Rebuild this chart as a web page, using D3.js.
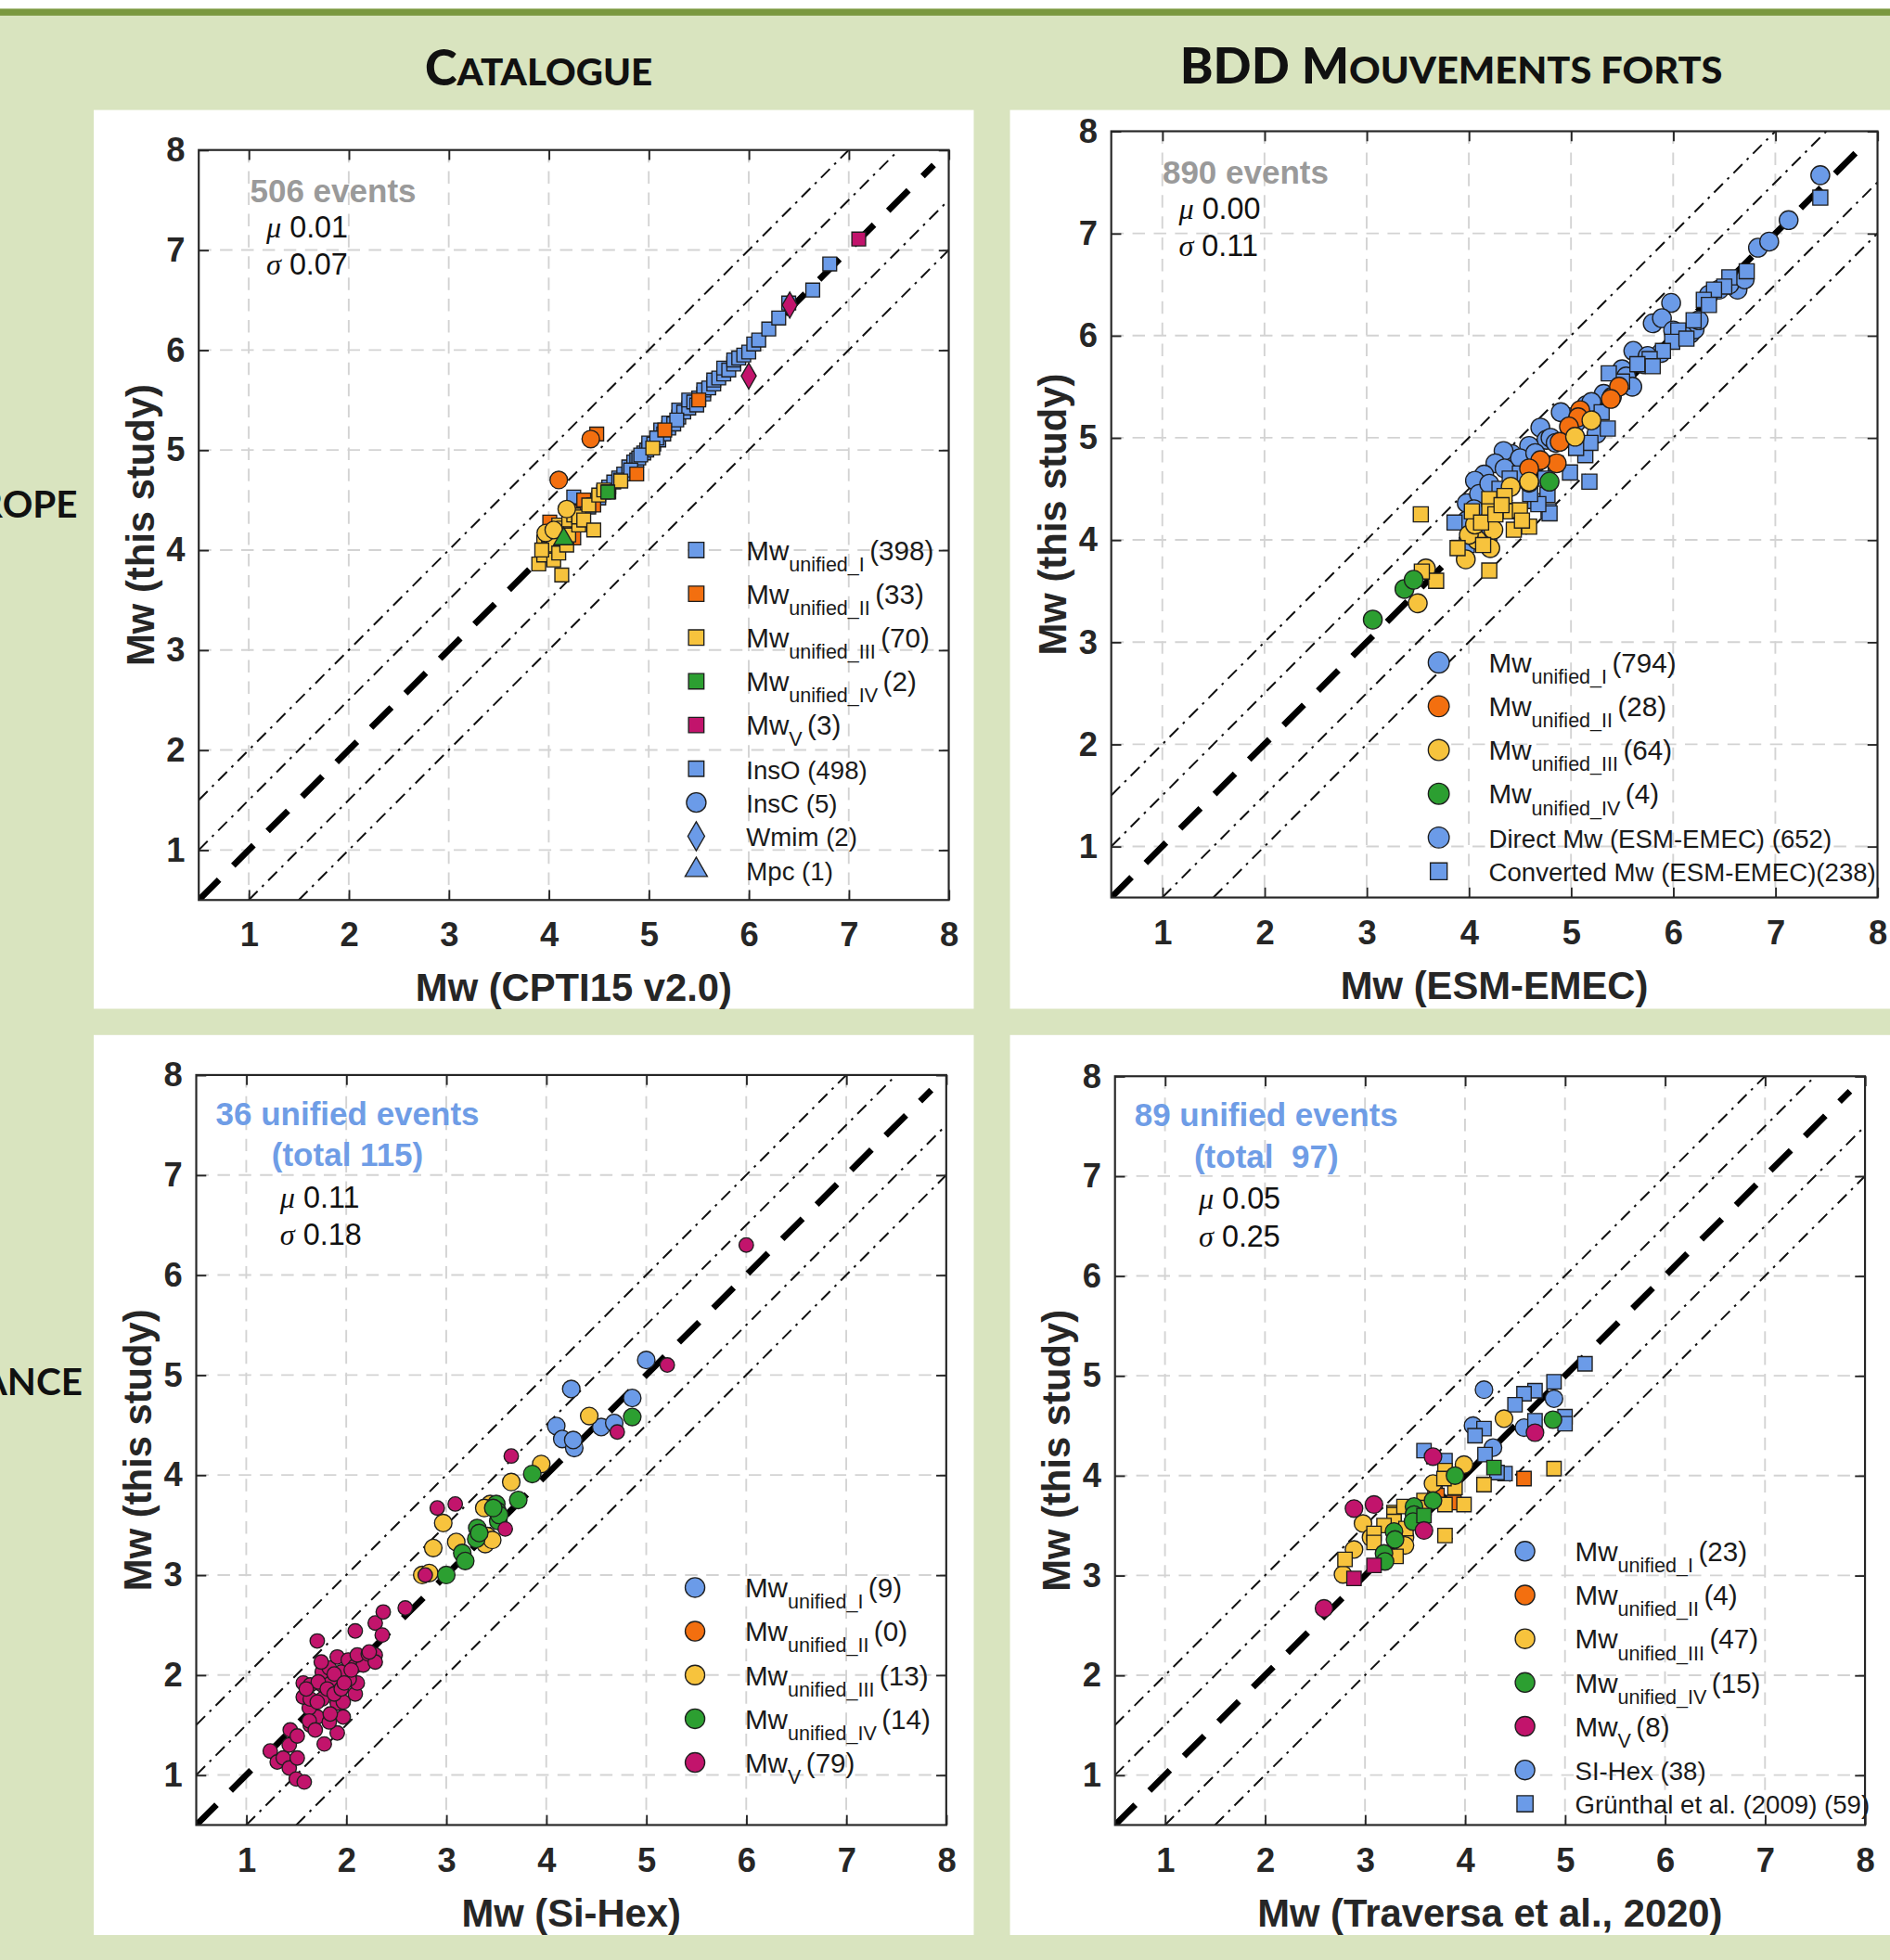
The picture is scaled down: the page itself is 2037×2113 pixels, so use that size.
<!DOCTYPE html>
<html>
<head>
<meta charset="utf-8">
<script src="https://d3js.org/d3.v7.min.js"></script>
<style>
  body { margin: 0; overflow: hidden; background: #d9e4bf; }
  text { white-space: pre; }
</style>
</head>
<body>
<script>
// ---- data: [Mw reference, Mw this study, class, symbol] ----
const cptiPts = [
  [4.40,4.43,"I","s"],[4.45,4.48,"I","s"],[4.50,4.52,"I","s"],[4.55,4.58,"I","s"],[4.60,4.63,"I","s"],[4.65,4.68,"I","s"],
  [4.70,4.72,"I","s"],[4.75,4.76,"I","s"],[4.80,4.83,"I","s"],[4.85,4.88,"I","s"],[4.88,4.90,"I","s"],[4.90,4.92,"I","s"],
  [4.95,4.97,"I","s"],[4.98,5.00,"I","s"],[5.00,5.02,"I","s"],[5.00,5.07,"I","s"],[5.05,5.06,"I","s"],[5.10,5.10,"I","s"],
  [5.12,5.20,"I","s"],[5.15,5.16,"I","s"],[5.20,5.22,"I","s"],[5.20,5.27,"I","s"],[5.25,5.26,"I","s"],[5.30,5.33,"I","s"],
  [5.30,5.40,"I","s"],[5.35,5.38,"I","s"],[5.40,5.42,"I","s"],[5.40,5.50,"I","s"],[5.45,5.48,"I","s"],[5.50,5.52,"I","s"],
  [5.55,5.56,"I","s"],[5.55,5.60,"I","s"],[5.60,5.62,"I","s"],[5.65,5.66,"I","s"],[5.65,5.70,"I","s"],[5.70,5.72,"I","s"],
  [5.75,5.76,"I","s"],[5.75,5.82,"I","s"],[5.80,5.80,"I","s"],[5.85,5.86,"I","s"],[5.85,5.90,"I","s"],[5.90,5.92,"I","s"],
  [5.95,5.95,"I","s"],[6.00,5.98,"I","s"],[6.05,6.06,"I","s"],[6.10,6.10,"I","s"],[6.20,6.21,"I","s"],[6.30,6.32,"I","s"],
  [6.40,6.47,"I","s"],[6.64,6.60,"I","s"],[6.81,6.86,"I","s"],[4.25,4.53,"I","s"],
  [4.72,4.70,"I","s"],[4.82,4.80,"I","s"],[4.92,4.95,"I","s"],[5.08,5.12,"I","s"],[5.28,5.30,"I","s"],[5.48,5.45,"I","s"],
  [4.01,4.28,"II","s"],[4.10,4.15,"II","s"],[4.20,4.20,"II","s"],[4.25,4.12,"II","s"],[4.30,4.38,"II","s"],[4.35,4.50,"II","s"],
  [4.45,4.45,"II","s"],[4.48,5.16,"II","s"],[4.88,4.76,"II","s"],[5.16,5.20,"II","s"],[5.50,5.50,"II","s"],
  [4.10,4.70,"II","o"],[4.42,5.11,"II","o"],
  [3.90,3.86,"III","s"],[3.95,3.95,"III","s"],[3.95,4.08,"III","s"],[4.00,4.02,"III","s"],[4.00,4.15,"III","s"],[4.05,3.90,"III","s"],
  [4.05,4.05,"III","s"],[4.10,3.97,"III","s"],[4.10,4.25,"III","s"],[4.13,3.75,"III","s"],[4.15,4.22,"III","s"],[4.18,4.05,"III","s"],
  [4.20,4.15,"III","s"],[4.20,4.30,"III","s"],[4.25,4.35,"III","s"],[4.30,4.25,"III","s"],[4.30,4.33,"III","s"],[4.35,4.30,"III","s"],
  [4.40,4.45,"III","s"],[4.45,4.20,"III","s"],[4.50,4.55,"III","s"],[4.55,4.60,"III","s"],[4.60,4.58,"III","s"],[4.72,4.69,"III","s"],
  [5.04,5.02,"III","s"],[3.93,4.00,"III","s"],
  [3.97,4.17,"III","o"],[4.05,4.20,"III","o"],[4.18,4.41,"III","o"],
  [4.59,4.58,"IV","s"],[4.15,4.11,"IV","^"],
  [7.10,7.11,"V","s"],[6.41,6.45,"V","d"],[6.00,5.74,"V","d"]
];

const esmPts = [
  [7.44,7.57,"I","o"],[7.13,7.13,"I","o"],[6.83,6.86,"I","o"],[6.94,6.92,"I","o"],[6.63,6.45,"I","o"],[6.35,6.40,"I","o"],
  [6.45,6.45,"I","o"],[5.98,6.32,"I","o"],[5.80,6.12,"I","o"],[5.89,6.17,"I","o"],[6.17,6.02,"I","o"],[6.21,6.06,"I","o"],
  [6.25,6.15,"I","o"],[6.10,6.00,"I","o"],[5.88,5.83,"I","o"],[5.71,5.72,"I","o"],[5.61,5.85,"I","o"],[5.50,5.67,"I","o"],
  [5.54,5.60,"I","o"],[5.32,5.43,"I","o"],[5.15,5.32,"I","o"],[4.98,5.20,"I","o"],[4.90,5.25,"I","o"],[4.70,5.10,"I","o"],
  [5.25,5.04,"I","o"],[4.76,4.98,"I","o"],[4.59,4.92,"I","o"],[4.42,4.84,"I","o"],[4.34,4.87,"I","o"],[4.26,4.75,"I","o"],
  [4.15,4.64,"I","o"],[4.06,4.58,"I","o"],[3.98,4.36,"I","o"],[3.98,4.19,"I","o"],[4.10,4.45,"I","o"],[4.20,4.55,"I","o"],
  [4.50,4.80,"I","o"],[4.65,4.85,"I","o"],[4.80,5.00,"I","o"],[5.05,5.15,"I","o"],[5.40,5.40,"I","o"],[5.75,5.80,"I","o"],
  [6.00,6.05,"I","o"],[4.05,4.30,"I","o"],[4.35,4.70,"I","o"],[4.85,4.95,"I","o"],[5.20,5.35,"I","o"],[5.60,5.50,"I","o"],
  [6.55,6.50,"I","o"],[6.70,6.55,"I","o"],
  [7.44,7.35,"I","s"],[6.72,6.63,"I","s"],[6.55,6.57,"I","s"],[6.50,6.48,"I","s"],[6.40,6.45,"I","s"],[6.30,6.35,"I","s"],
  [6.35,6.30,"I","s"],[6.20,6.15,"I","s"],[6.05,6.05,"I","s"],[5.99,5.94,"I","s"],[6.13,5.97,"I","s"],[5.90,5.85,"I","s"],
  [5.77,5.77,"I","s"],[5.65,5.72,"I","s"],[5.50,5.55,"I","s"],[5.37,5.63,"I","s"],[5.36,5.09,"I","s"],[5.18,4.57,"I","s"],
  [5.14,4.83,"I","s"],[5.19,4.95,"I","s"],[4.98,4.98,"I","s"],[4.99,4.66,"I","s"],[4.78,4.28,"I","s"],[4.79,4.26,"I","s"],
  [4.65,4.38,"I","s"],[4.77,4.44,"I","s"],[4.68,4.35,"I","s"],[4.20,4.07,"I","s"],[3.86,4.17,"I","s"],[3.98,3.95,"I","s"],
  [4.50,4.65,"I","s"],[4.40,4.60,"I","s"],[4.30,4.50,"I","s"],[4.60,4.45,"I","s"],[4.75,4.60,"I","s"],[4.85,4.75,"I","s"],
  [5.05,4.90,"I","s"],[5.30,5.25,"I","s"],[5.80,5.70,"I","s"],
  [5.47,5.50,"II","o"],[5.39,5.38,"II","o"],[5.09,5.27,"II","o"],[5.07,5.20,"II","o"],[4.98,5.11,"II","o"],[4.89,4.96,"II","o"],
  [4.86,4.75,"II","o"],[4.70,4.78,"II","o"],[4.59,4.70,"II","o"],
  [5.20,5.17,"III","o"],[5.04,5.01,"III","o"],[4.59,4.56,"III","o"],[4.41,4.52,"III","o"],[4.59,4.57,"III","o"],[3.97,3.81,"III","o"],
  [4.21,3.92,"III","o"],[4.24,4.10,"III","o"],[4.08,4.00,"III","o"],[4.00,4.05,"III","o"],[3.50,3.38,"III","o"],[3.58,3.72,"III","o"],
  [4.31,4.36,"III","o"],[4.06,4.15,"III","o"],
  [3.53,4.25,"III","s"],[4.20,4.40,"III","s"],[4.20,4.28,"III","s"],[4.35,4.43,"III","s"],[4.41,4.28,"III","s"],[4.50,4.29,"III","s"],
  [4.59,4.13,"III","s"],[4.44,4.10,"III","s"],[4.03,4.28,"III","s"],[4.12,4.17,"III","s"],[4.14,3.95,"III","s"],[3.89,3.92,"III","s"],
  [4.20,3.70,"III","s"],[3.68,3.60,"III","s"],[3.54,3.69,"III","s"],[4.26,4.25,"III","s"],[4.32,4.34,"III","s"],[4.52,4.19,"III","s"],
  [3.06,3.22,"IV","o"],[3.37,3.52,"IV","o"],[3.46,3.61,"IV","o"],[4.79,4.57,"IV","o"]
];

const sihexPts = [
  [1.24,1.24,"V","o"],[1.31,1.13,"V","o"],[1.37,1.17,"V","o"],[1.43,1.30,"V","o"],[1.44,1.45,"V","o"],[1.51,1.39,"V","o"],
  [1.43,1.07,"V","o"],[1.51,1.17,"V","o"],[1.50,0.96,"V","o"],[1.58,0.93,"V","o"],[1.78,1.31,"V","o"],[1.91,1.42,"V","o"],
  [1.64,1.50,"V","o"],[1.71,1.58,"V","o"],[1.83,1.53,"V","o"],[1.97,1.58,"V","o"],[1.63,1.67,"V","o"],[1.57,1.78,"V","o"],
  [1.64,1.76,"V","o"],[1.76,1.76,"V","o"],[1.57,1.92,"V","o"],[1.64,1.90,"V","o"],[1.76,1.90,"V","o"],[1.84,1.95,"V","o"],
  [1.91,1.72,"V","o"],[1.97,1.73,"V","o"],[2.09,1.81,"V","o"],[2.11,1.92,"V","o"],[2.03,1.96,"V","o"],[1.95,2.03,"V","o"],
  [1.76,2.03,"V","o"],[1.83,2.07,"V","o"],[1.91,2.18,"V","o"],[2.02,2.15,"V","o"],[2.09,2.09,"V","o"],[2.17,2.10,"V","o"],
  [2.11,2.20,"V","o"],[2.22,2.21,"V","o"],[2.29,2.20,"V","o"],[2.29,2.13,"V","o"],[1.72,1.93,"V","o"],[1.71,1.73,"V","o"],
  [1.84,1.61,"V","o"],[1.71,2.34,"V","o"],[2.09,2.44,"V","o"],[2.29,2.52,"V","o"],[2.37,2.63,"V","o"],[2.36,2.40,"V","o"],
  [2.59,2.67,"V","o"],[1.60,1.86,"V","o"],[1.81,1.86,"V","o"],[1.88,1.81,"V","o"],[1.63,1.54,"V","o"],[1.95,1.86,"V","o"],
  [2.05,2.05,"V","o"],[2.23,2.23,"V","o"],[1.75,2.13,"V","o"],[1.88,2.01,"V","o"],[1.98,1.92,"V","o"],[1.69,1.45,"V","o"],
  [2.79,3.00,"V","o"],[2.91,3.67,"V","o"],[3.09,3.71,"V","o"],[3.59,3.46,"V","o"],[3.65,4.19,"V","o"],[4.71,4.43,"V","o"],
  [5.21,5.10,"V","o"],[6.00,6.30,"V","o"],
  [5.00,5.15,"I","o"],[4.25,4.86,"I","o"],[4.86,4.77,"I","o"],[4.10,4.49,"I","o"],[4.16,4.36,"I","o"],[4.28,4.27,"I","o"],
  [4.55,4.48,"I","o"],[4.68,4.52,"I","o"],[4.27,4.35,"I","o"],
  [4.43,4.59,"III","o"],[3.95,4.11,"III","o"],[3.65,3.93,"III","o"],[2.97,3.52,"III","o"],[2.87,3.27,"III","o"],[3.10,3.33,"III","o"],
  [2.76,3.00,"III","o"],[3.44,3.71,"III","o"],[3.39,3.31,"III","o"],[3.41,3.39,"III","o"],[2.83,3.02,"III","o"],[3.38,3.67,"III","o"],
  [3.46,3.35,"III","o"],
  [4.86,4.58,"IV","o"],[3.86,4.01,"IV","o"],[3.72,3.75,"IV","o"],[3.50,3.71,"IV","o"],[3.51,3.64,"IV","o"],[3.52,3.54,"IV","o"],
  [3.31,3.47,"IV","o"],[3.30,3.36,"IV","o"],[3.16,3.22,"IV","o"],[3.19,3.14,"IV","o"],[3.00,3.00,"IV","o"],[3.33,3.42,"IV","o"],
  [3.53,3.60,"IV","o"],[3.47,3.67,"IV","o"]
];

const traversaPts = [
  [4.19,4.86,"I","o"],[4.89,4.77,"I","o"],[4.59,4.48,"I","o"],[4.28,4.28,"I","o"],[4.08,4.50,"I","o"],
  [5.20,5.12,"I","s"],[4.89,4.94,"I","s"],[4.70,4.85,"I","s"],[4.59,4.82,"I","s"],[4.50,4.71,"I","s"],[5.00,4.59,"I","s"],
  [5.00,4.52,"I","s"],[4.70,4.55,"I","s"],[4.19,4.47,"I","s"],[4.10,4.40,"I","s"],[3.59,4.25,"I","s"],[3.80,4.15,"I","s"],
  [4.20,4.21,"I","s"],[4.40,4.02,"I","s"],[4.32,4.03,"I","s"],
  [4.59,3.97,"II","s"],[3.89,3.73,"II","s"],[3.70,3.85,"II","s"],[3.72,3.80,"II","s"],
  [3.99,4.11,"III","o"],[3.68,3.92,"III","o"],[4.39,4.57,"III","o"],[2.98,3.52,"III","o"],[2.89,3.26,"III","o"],[2.78,3.01,"III","o"],
  [3.40,3.38,"III","o"],[3.40,3.30,"III","o"],[3.06,3.38,"III","o"],
  [4.89,4.07,"III","s"],[4.19,3.91,"III","s"],[3.80,3.40,"III","s"],[3.99,3.71,"III","s"],[3.80,3.71,"III","s"],[3.90,3.88,"III","s"],
  [3.80,4.05,"III","s"],[3.79,3.97,"III","s"],[3.29,3.63,"III","s"],[3.29,3.61,"III","s"],[3.29,3.54,"III","s"],[3.19,3.50,"III","s"],
  [3.09,3.42,"III","s"],[3.09,3.33,"III","s"],[2.80,3.16,"III","s"],[3.31,3.19,"III","s"],[3.39,3.69,"III","s"],[3.59,3.75,"III","s"],
  [3.41,3.47,"III","s"],[3.59,3.68,"III","s"],
  [4.88,4.56,"IV","o"],[3.90,4.00,"IV","o"],[3.68,3.75,"IV","o"],[3.49,3.69,"IV","o"],[3.49,3.61,"IV","o"],[3.48,3.54,"IV","o"],
  [3.29,3.44,"IV","o"],[3.30,3.36,"IV","o"],[3.19,3.22,"IV","o"],[3.20,3.14,"IV","o"],
  [4.29,4.08,"IV","s"],[3.59,3.60,"IV","s"],
  [2.89,3.67,"V","o"],[3.09,3.71,"V","o"],[3.68,4.19,"V","o"],[3.59,3.45,"V","o"],[4.70,4.43,"V","o"],[2.59,2.67,"V","o"],
  [2.89,2.97,"V","s"],[3.09,3.10,"V","s"]
];

// legend rows: [main text, subscript, tail, class, symbol]
const cptiLegend = [
  ["Mw","unified_I","(398)","I","s"],["Mw","unified_II","(33)","II","s"],["Mw","unified_III","(70)","III","s"],
  ["Mw","unified_IV","(2)","IV","s"],["Mw","V","(3)","V","s"],["InsO (498)","","","I","s"],
  ["InsC (5)","","","I","o"],["Wmim (2)","","","I","d"],["Mpc (1)","","","I","^"]
];
const esmLegend = [
  ["Mw","unified_I","(794)","I","o"],["Mw","unified_II","(28)","II","o"],["Mw","unified_III","(64)","III","o"],
  ["Mw","unified_IV","(4)","IV","o"],["Direct Mw (ESM-EMEC) (652)","","","I","o"],["Converted Mw (ESM-EMEC)(238)","","","I","s"]
];
const sihexLegend = [
  ["Mw","unified_I","(9)","I","o"],["Mw","unified_II","(0)","II","o"],["Mw","unified_III","(13)","III","o"],
  ["Mw","unified_IV","(14)","IV","o"],["Mw","V","(79)","V","o"]
];
const traversaLegend = [
  ["Mw","unified_I","(23)","I","o"],["Mw","unified_II","(4)","II","o"],["Mw","unified_III","(47)","III","o"],
  ["Mw","unified_IV","(15)","IV","o"],["Mw","V","(8)","V","o"],["SI-Hex (38)","","","I","o"],
  ["Grünthal et al. (2009) (59)","","","I","s"]
];

const headLines = [["506 events"], ["890 events"], ["36 unified events", "(total 115)"], ["89 unified events", "(total  97)"]];
const muValues = ["0.01", "0.00", "0.11", "0.05"];
const sigmaValues = ["0.07", "0.11", "0.18", "0.25"];
const xLabels = ["Mw (CPTI15 v2.0)", "Mw (ESM-EMEC)", "Mw (Si-Hex)", "Mw (Traversa et al., 2020)"];
const tickValues = [1, 2, 3, 4, 5, 6, 7, 8];
const gridValues = [1, 2, 3, 4, 5, 6, 7];
const bandOffsets = [1, 0.5, -0.5, -1];
const oneToOne = [0.5, 7.85];

const classColor = { I: "#6b9be8", II: "#f36f0f", III: "#f7c33d", IV: "#2c9f31", V: "#c2146c" };
const SANS = "'Liberation Sans', Arial, sans-serif";
const INK = "#262626";

var svg = d3.select("body").append("svg")
  .attr("width", 2037).attr("height", 2113)
  .attr("viewBox", "0 0 1512 1568")
  .attr("preserveAspectRatio", "none");

svg.append("rect").attr("width", 1512).attr("height", 1568).attr("fill", "#d9e4bf");
svg.append("rect").attr("width", 1512).attr("height", 7).attr("fill", "#ffffff");
svg.append("rect").attr("y", 7).attr("width", 1512).attr("height", 5.5).attr("fill", "#7a983f");

// column titles in small caps
function smallCaps(x, y, big, rest, w) {
  var t = svg.append("text").attr("x", x).attr("y", y).attr("text-anchor", "middle")
    .attr("font-family", "Lato, 'Open Sans', sans-serif").attr("font-weight", "900").attr("fill", "#111")
    .attr("textLength", w).attr("lengthAdjust", "spacingAndGlyphs");
  big.forEach(function(b, i) {
    t.append("tspan").attr("font-size", 39).text(b);
    t.append("tspan").attr("font-size", 30).text(rest[i]);
  });
}
smallCaps(431, 68, ["C"], ["ATALOGUE"], 182);
smallCaps(1161, 67, ["BDD M"], ["OUVEMENTS FORTS"], 434);

// row labels, cut off by the left edge as in the original
svg.append("text").attr("x", 62).attr("y", 414).attr("text-anchor", "end")
  .attr("font-family", "Lato, sans-serif").attr("font-weight", "bold").attr("font-size", 30).attr("fill", "#111").text("EUROPE");
svg.append("text").attr("x", 66).attr("y", 1116).attr("text-anchor", "end")
  .attr("font-family", "Lato, sans-serif").attr("font-weight", "bold").attr("font-size", 30).attr("fill", "#111").text("FRANCE");

const panels = [
  { id: 0, card: [75, 88, 704, 719], left: 159, right: 759, top: 120, bottom: 720, pts: cptiPts, legend: cptiLegend,
    legX: 557, legY: 440, cr: 7, sq: 11, headColor: "#9a9a9a" },
  { id: 1, card: [808, 88, 710, 719], left: 889, right: 1502, top: 105, bottom: 718, pts: esmPts, legend: esmLegend,
    legX: 1151, legY: 530, cr: 7.5, sq: 12, headColor: "#9a9a9a" },
  { id: 2, card: [75, 828, 704, 720], left: 157, right: 757, top: 860, bottom: 1460, pts: sihexPts, legend: sihexLegend,
    legX: 556, legY: 1270, cr: 7, sq: 12, headColor: "#6f9de6" },
  { id: 3, card: [808, 828, 710, 720], left: 892, right: 1492, top: 861, bottom: 1460, pts: traversaPts, legend: traversaLegend,
    legX: 1220, legY: 1241, cr: 7, sq: 11.5, headColor: "#6f9de6" }
];

const symType = { s: d3.symbolSquare, o: d3.symbolCircle, d: d3.symbolDiamond, "^": d3.symbolTriangle };
function symArea(sym, p, scale) {
  var k = scale || 1;
  if (sym === "o") return Math.PI * p.cr * p.cr * k;
  if (sym === "s") return p.sq * p.sq * k;
  if (sym === "d") return 125 * k;
  return 110 * k;
}

function drawPanel(p, i) {
  var c = p.card;
  svg.append("rect").attr("x", c[0]).attr("y", c[1]).attr("width", c[2]).attr("height", c[3]).attr("fill", "#ffffff");

  var x = d3.scaleLinear().domain([0.5, 8]).range([p.left, p.right]);
  var y = d3.scaleLinear().domain([0.5, 8]).range([p.bottom, p.top]);
  var g = svg.append("g");

  svg.append("clipPath").attr("id", "clip" + p.id).append("rect")
    .attr("x", p.left).attr("y", p.top).attr("width", p.right - p.left).attr("height", p.bottom - p.top);

  // dashed grid
  var grid = g.append("g").attr("stroke", "#d3d3d3").attr("stroke-width", 1.4).attr("stroke-dasharray", "10,7");
  grid.selectAll("line.v").data(gridValues).join("line").attr("class", "v")
    .attr("x1", d => x(d)).attr("x2", d => x(d)).attr("y1", p.top).attr("y2", p.bottom);
  grid.selectAll("line.h").data(gridValues).join("line").attr("class", "h")
    .attr("y1", d => y(d)).attr("y2", d => y(d)).attr("x1", p.left).attr("x2", p.right);

  var plot = g.append("g").attr("clip-path", "url(#clip" + p.id + ")");
  // +/-0.5 and +/-1 bands, dash-dot
  plot.selectAll("line.band").data(bandOffsets).join("line").attr("class", "band")
    .attr("x1", d => x(Math.max(0.5, 0.5 - d))).attr("y1", d => y(Math.max(0.5, 0.5 - d) + d))
    .attr("x2", d => x(Math.min(8, 8 - d))).attr("y2", d => y(Math.min(8, 8 - d) + d))
    .attr("stroke", "#111").attr("stroke-width", 1.5).attr("stroke-dasharray", "10,5,2,5");
  // 1:1 line
  plot.append("line")
    .attr("x1", x(oneToOne[0])).attr("y1", y(oneToOne[0])).attr("x2", x(oneToOne[1])).attr("y2", y(oneToOne[1]))
    .attr("stroke", "#000").attr("stroke-width", 5).attr("stroke-dasharray", "23,16");

  // points
  var order = { I: 0, II: 1, III: 2, IV: 3, V: 4 };
  var pts = p.pts.slice().sort((a, b) => order[a[2]] - order[b[2]]);
  g.append("g").selectAll("path").data(pts).join("path")
    .attr("transform", d => "translate(" + x(d[0]) + "," + y(d[1]) + ")")
    .attr("d", d => d3.symbol().type(symType[d[3]]).size(symArea(d[3], p, (p.id === 2 && d[2] === "V") ? 0.68 : 1))())
    .attr("fill", d => classColor[d[2]])
    .attr("stroke", "#1e1e1e").attr("stroke-width", 1);

  // axes with inward ticks on all four sides
  function styleAxis(sel) {
    sel.select(".domain").remove();
    sel.selectAll("line").attr("stroke", INK).attr("stroke-width", 1.4);
    sel.selectAll("text").attr("font-size", 27).attr("font-weight", "bold").attr("font-family", SANS).attr("fill", INK);
  }
  g.append("g").attr("transform", "translate(0," + p.bottom + ")")
    .call(d3.axisBottom(x).tickValues(tickValues).tickSize(-8).tickPadding(18).tickFormat(d3.format("d"))).call(styleAxis);
  g.append("g").attr("transform", "translate(" + p.left + ",0)")
    .call(d3.axisLeft(y).tickValues(tickValues).tickSize(-8).tickPadding(11).tickFormat(d3.format("d"))).call(styleAxis);
  g.append("g").attr("transform", "translate(0," + p.top + ")")
    .call(d3.axisTop(x).tickValues(tickValues).tickSize(-8).tickFormat("")).call(styleAxis);
  g.append("g").attr("transform", "translate(" + p.right + ",0)")
    .call(d3.axisRight(y).tickValues(tickValues).tickSize(-8).tickFormat("")).call(styleAxis);
  g.append("rect").attr("x", p.left).attr("y", p.top).attr("width", p.right - p.left).attr("height", p.bottom - p.top)
    .attr("fill", "none").attr("stroke", INK).attr("stroke-width", 1.6);

  // axis titles
  g.append("text").attr("x", (p.left + p.right) / 2).attr("y", p.bottom + 81).attr("text-anchor", "middle")
    .attr("font-family", SANS).attr("font-weight", "bold").attr("font-size", 31).attr("fill", INK).text(xLabels[i]);
  g.append("text").attr("transform", "translate(" + (p.left - 36) + "," + (p.top + p.bottom) / 2 + ") rotate(-90)")
    .attr("text-anchor", "middle")
    .attr("font-family", SANS).attr("font-weight", "bold").attr("font-size", 31).attr("fill", INK).text("Mw (this study)");

  // header text and statistics
  var head = headLines[i];
  var statX;
  if (head.length === 1) {
    g.append("text").attr("x", p.left + 41).attr("y", p.top + 42)
      .attr("font-family", SANS).attr("font-weight", "bold").attr("font-size", 26).attr("fill", p.headColor).text(head[0]);
    statX = p.left + 54;
  } else {
    var cx = p.left + 121;
    head.forEach(function(h, k) {
      g.append("text").attr("x", cx).attr("y", p.top + 40 + k * 33).attr("text-anchor", "middle")
        .attr("font-family", SANS).attr("font-weight", "bold").attr("font-size", 26).attr("fill", p.headColor).text(h);
    });
    statX = p.left + 67;
  }
  var statY = p.top + (head.length === 1 ? 70 : 106);
  [["μ", muValues[i]], ["σ", sigmaValues[i]]].forEach(function(s, k) {
    var t = g.append("text").attr("x", statX).attr("y", statY + k * 30)
      .attr("font-family", SANS).attr("font-size", 24).attr("fill", "#111");
    t.append("tspan").attr("font-family", "'Liberation Serif', serif").attr("font-style", "italic").text(s[0]);
    t.append("tspan").text(" " + s[1]);
  });

  // legend
  var ly = p.legY;
  p.legend.forEach(function(e, k) {
    if (k > 0) ly += p.legend[k - 1][1] ? 35 : 27;
    g.append("path").attr("transform", "translate(" + p.legX + "," + ly + ")")
      .attr("d", d3.symbol().type(symType[e[4]]).size(symArea(e[4], p, 1.25))())
      .attr("fill", classColor[e[3]]).attr("stroke", "#1e1e1e").attr("stroke-width", 1);
    var t = g.append("text").attr("x", p.legX + 40).attr("y", ly + 8)
      .attr("font-family", SANS).attr("font-size", e[1] ? 22 : 20.5).attr("fill", "#1a1a1a");
    t.append("tspan").text(e[0]);
    if (e[1]) {
      t.append("tspan").attr("font-size", 16).attr("dy", 9).text(e[1]);
      t.append("tspan").attr("dy", -9).attr("dx", 4).text(e[2]);
    }
  });
}

panels.forEach(drawPanel);
</script>
</body>
</html>
